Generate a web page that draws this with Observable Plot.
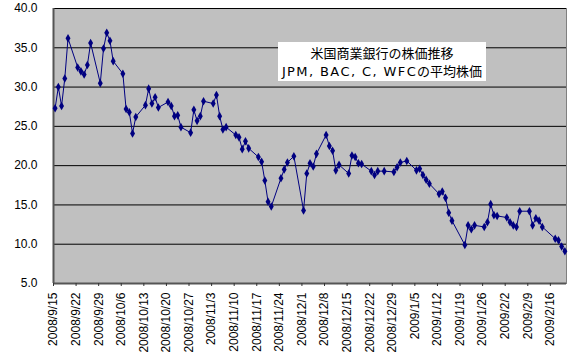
<!DOCTYPE html>
<html><head><meta charset="utf-8">
<script src="https://cdn.jsdelivr.net/npm/d3@7"></script>
<script src="https://cdn.jsdelivr.net/npm/@observablehq/plot@0.6"></script>
<style>
html,body{margin:0;padding:0;background:#fff;}
#wrap{position:relative;width:575px;height:355px;}
#title{position:absolute;left:278px;top:42px;width:208px;height:39px;background:#fff;
 font-family:"Noto Sans CJK JP",sans-serif;font-size:13px;line-height:18px;text-align:center;color:#000;padding-top:2px;box-sizing:border-box;white-space:nowrap;}
#title .lat{font-family:"DejaVu Sans",sans-serif;font-size:13px;letter-spacing:1.4px;}
</style></head>
<body><div id="wrap"><div id="title"></div></div>
<script>
const titleLine1 = "米国商業銀行の株価推移";
const titleLine2Latin = "JPM, BAC, C, WFC";
const titleLine2Rest = "の平均株価";
const dates = ["2008-09-15","2008-09-16","2008-09-17","2008-09-18","2008-09-19",
"2008-09-22","2008-09-23","2008-09-24","2008-09-25","2008-09-26",
"2008-09-29","2008-09-30","2008-10-01","2008-10-02","2008-10-03",
"2008-10-06","2008-10-07","2008-10-08","2008-10-09","2008-10-10",
"2008-10-13","2008-10-14","2008-10-15","2008-10-16","2008-10-17",
"2008-10-20","2008-10-21","2008-10-22","2008-10-23","2008-10-24",
"2008-10-27","2008-10-28","2008-10-29","2008-10-30","2008-10-31",
"2008-11-03","2008-11-04","2008-11-05","2008-11-06","2008-11-07",
"2008-11-10","2008-11-11","2008-11-12","2008-11-13","2008-11-14",
"2008-11-17","2008-11-18","2008-11-19","2008-11-20","2008-11-21",
"2008-11-24","2008-11-25","2008-11-26","2008-11-28",
"2008-12-01","2008-12-02","2008-12-03","2008-12-04","2008-12-05",
"2008-12-08","2008-12-09","2008-12-10","2008-12-11","2008-12-12",
"2008-12-15","2008-12-16","2008-12-17","2008-12-18","2008-12-19",
"2008-12-22","2008-12-23","2008-12-24","2008-12-26",
"2008-12-29","2008-12-30","2008-12-31","2009-01-02",
"2009-01-05","2009-01-06","2009-01-07","2009-01-08","2009-01-09",
"2009-01-12","2009-01-13","2009-01-14","2009-01-15","2009-01-16",
"2009-01-20","2009-01-21","2009-01-22","2009-01-23",
"2009-01-26","2009-01-27","2009-01-28","2009-01-29","2009-01-30",
"2009-02-02","2009-02-03","2009-02-04","2009-02-05","2009-02-06",
"2009-02-09","2009-02-10","2009-02-11","2009-02-12","2009-02-13",
"2009-02-17","2009-02-18","2009-02-19","2009-02-20"];
const prices = [27.3,30.0,27.6,31.1,36.2,
32.5,32.0,31.6,32.8,35.6,
30.5,34.9,36.9,35.9,33.3,
31.7,27.2,26.8,24.1,26.2,
27.7,29.8,27.9,28.7,27.4,
28.1,27.6,26.3,26.4,24.9,
24.2,27.1,25.7,26.3,28.2,
27.9,29.0,26.3,24.6,24.9,
23.9,23.6,22.1,23.1,22.2,
21.1,20.5,18.1,15.4,14.8,
18.4,19.5,20.4,21.2,
14.3,19.0,20.3,19.9,21.5,
23.9,22.5,21.9,19.4,20.1,
19.0,21.3,21.1,20.3,20.2,
19.3,18.8,19.3,19.3,
19.2,19.8,20.4,20.6,
19.4,19.6,18.8,18.2,17.7,
16.4,16.7,15.9,14.0,13.0,
9.9,12.4,11.9,12.4,
12.2,12.8,15.1,13.7,13.6,
13.4,12.8,12.4,12.2,14.2,
14.2,12.4,13.3,13.0,12.2,
10.7,10.5,9.7,9.1];
const xTicks = ["2008-09-15","2008-09-22","2008-09-29","2008-10-06","2008-10-13","2008-10-20","2008-10-27",
"2008-11-03","2008-11-10","2008-11-17","2008-11-24","2008-12-01","2008-12-08","2008-12-15","2008-12-22","2008-12-29",
"2009-01-05","2009-01-12","2009-01-19","2009-01-26","2009-02-02","2009-02-09","2009-02-16"];
const yTicks = [5,10,15,20,25,30,35,40];
const xDomain = ["2008-09-15","2009-02-21"];

const title = document.getElementById("title");
const l1 = document.createElement("div"); l1.textContent = titleLine1;
const l2 = document.createElement("div");
const lat = document.createElement("span"); lat.className = "lat"; lat.textContent = titleLine2Latin;
l2.appendChild(lat); l2.appendChild(document.createTextNode(titleLine2Rest));
title.appendChild(l1); title.appendChild(l2);

const parse = s => new Date(s + "T00:00:00Z");
const data = dates.map((d,i) => ({date: new Date(parse(d).getTime() + 12*3600e3), value: prices[i]}));
const fmt = d => `${d.getUTCFullYear()}/${d.getUTCMonth()+1}/${d.getUTCDate()}`;

const chart = Plot.plot({
  width: 575, height: 355,
  marginLeft: 53, marginRight: 9, marginTop: 8, marginBottom: 72,
  style: {background: "#fff", fontFamily: "'Liberation Sans', Arial, sans-serif", fontSize: "12px", color: "#000"},
  x: {type: "utc", domain: xDomain.map(parse), label: null},
  y: {domain: [5, 40], label: null},
  marks: [
    Plot.frame({fill: "#c0c0c0", stroke: "#808080"}),
    Plot.ruleY(yTicks.slice(1), {stroke: "#000", strokeWidth: 1}),
    Plot.ruleY([5], {stroke: "#555", strokeWidth: 2}),
    Plot.ruleX([parse(xDomain[0])], {stroke: "#555", strokeWidth: 2}),
    Plot.axisY({ticks: yTicks, tickFormat: d => d.toFixed(1), tickSize: 0, tickPadding: 16, fontSize: 12, label: null}),
    Plot.axisX({ticks: xTicks.map(parse), tickFormat: fmt, tickRotate: -90, tickSize: 3, tickPadding: 6, stroke: "#333", fontSize: 12, label: null}),
    Plot.line(data, {x: "date", y: "value", stroke: "#000080", strokeWidth: 1}),
    Plot.dot(data, {x: "date", y: "value", symbol: "diamond", fill: "#000080", r: 2.6})
  ]
});
chart.style.position = "absolute";
chart.style.left = "0"; chart.style.top = "0";
const wrap = document.getElementById("wrap");
wrap.insertBefore(chart, wrap.firstChild);
</script>
</body></html>
